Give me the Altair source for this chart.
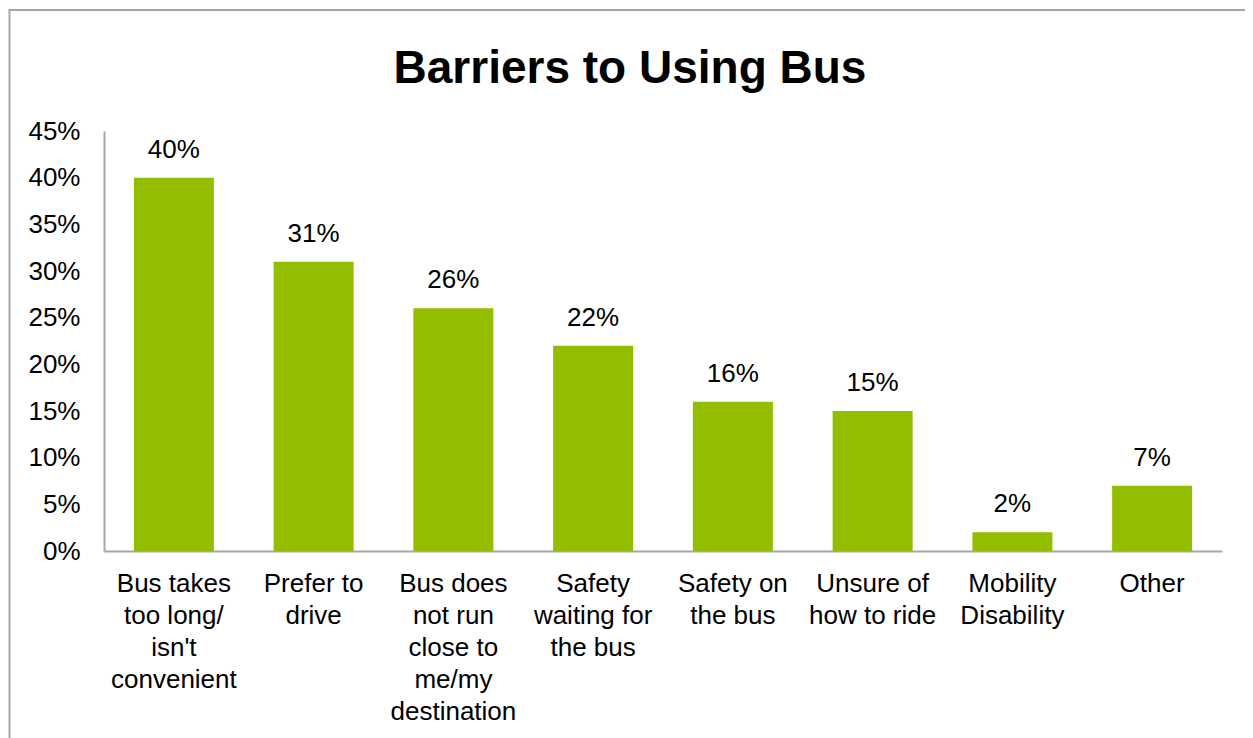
import altair as alt
import pandas as pd

categories = [
    "Bus takes|too long/|isn't|convenient",
    "Prefer to|drive",
    "Bus does|not run|close to|me/my|destination",
    "Safety|waiting for|the bus",
    "Safety on|the bus",
    "Unsure of|how to ride",
    "Mobility|Disability",
    "Other",
]
values = [0.40, 0.31, 0.26, 0.22, 0.16, 0.15, 0.02, 0.07]
y_ticks = [0, 0.05, 0.10, 0.15, 0.20, 0.25, 0.30, 0.35, 0.40, 0.45]

df = pd.DataFrame({"cat": categories, "val": values})

FONT = "Liberation Sans"
GRAY = "#A6A6A6"
GREEN = "#93BE00"

base = alt.Chart(df)

x_enc = alt.X(
    "cat:N",
    sort=categories,
    scale=alt.Scale(paddingInner=0.4275, paddingOuter=0.21375),
    axis=alt.Axis(
        title=None,
        labelAngle=0,
        labelExpr="split(datum.label, '|')",
        labelFontSize=26,
        labelLineHeight=32,
        labelFont=FONT,
        labelColor="black",
        labelPadding=19,
        labelLimit=0,
        ticks=False,
        tickSize=0,
        domainColor=GRAY,
        domainWidth=2,
        grid=False,
    ),
)
y_enc = alt.Y(
    "val:Q",
    scale=alt.Scale(domain=[0, 0.45], nice=False),
    axis=alt.Axis(
        title=None,
        values=y_ticks,
        format=".0%",
        labelFontSize=26,
        labelFont=FONT,
        labelColor="black",
        labelPadding=24,
        ticks=False,
        tickSize=0,
        domainColor=GRAY,
        domainWidth=2,
        grid=False,
    ),
)

bars = base.mark_bar(color=GREEN).encode(x=x_enc, y=y_enc)
labels = base.mark_text(
    fontSize=26, font=FONT, color="black", baseline="alphabetic", dy=-20
).encode(x=alt.X("cat:N", sort=categories), y="val:Q", text=alt.Text("val:Q", format=".0%"))

frame_df = pd.DataFrame({"a": [0]})
left_line = alt.Chart(frame_df).mark_rule(color=GRAY, strokeWidth=2).encode(
    x=alt.value(-94.5), y=alt.value(-121), y2=alt.value(620)
)
top_line = alt.Chart(frame_df).mark_rule(color=GRAY, strokeWidth=2).encode(
    x=alt.value(-95.5), x2=alt.value(1200), y=alt.value(-121)
)

chart = (
    alt.layer(left_line, top_line, bars, labels)
    .properties(
        width=1118,
        height=420,
        autosize=alt.AutoSizeParams(type="none"),
        padding={"left": 96, "top": 123, "right": 23, "bottom": 187},
        title=alt.TitleParams(
            "Barriers to Using Bus",
            fontSize=46,
            font=FONT,
            fontWeight="bold",
            color="black",
            anchor="middle",
            baseline="alphabetic",
            dx=-33,
            dy=120,
            offset=0,
        ),
    )
    .configure(background="white", view=alt.ViewConfig(stroke="transparent", strokeWidth=0))
)

chart.save("out.html", embed_options={"renderer": "svg", "actions": False})
